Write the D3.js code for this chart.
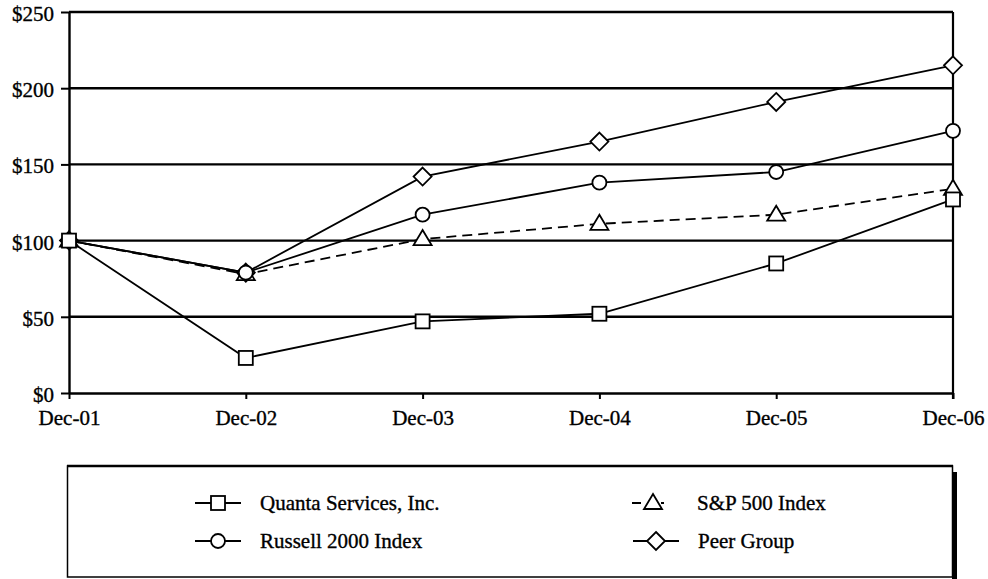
<!DOCTYPE html>
<meta charset="utf-8">
<style>
body { margin: 0; background: white; }
svg text { font-family: "Liberation Serif", "DejaVu Serif", serif !important; fill: black; stroke: black; stroke-width: 0.35px; }
</style>
<body>
<script src="https://d3js.org/d3.v7.min.js"></script>
<script>
var width = 988,
    height = 579;

var years = ["Dec-01", "Dec-02", "Dec-03", "Dec-04", "Dec-05", "Dec-06"];
var yTicks = [0, 50, 100, 150, 200, 250];

var quanta  = [100, 23, 47, 52, 85, 127];
var russell = [100, 79, 117, 138, 145, 172];
var sp500   = [100, 78, 101, 111, 117, 134];
var peer    = [100, 79, 142, 165, 191, 215];

var seriesNames = ["Quanta Services, Inc.", "Russell 2000 Index", "S&P 500 Index", "Peer Group"];

var series = [
  { name: seriesNames[0], values: quanta,  marker: "square",   dash: null },
  { name: seriesNames[1], values: russell, marker: "circle",   dash: null },
  { name: seriesNames[2], values: sp500,   marker: "triangle", dash: "10,6" },
  { name: seriesNames[3], values: peer,    marker: "diamond",  dash: null }
];

var plotLeft = 69, plotRight = 953, plotTop = 12, plotBottom = 393;

var x = d3.scalePoint().domain(years).range([plotLeft, plotRight]);
var y = d3.scaleLinear().domain([0, 250]).range([plotBottom, plotTop]);

var svg = d3.select("body").append("svg")
    .attr("width", width)
    .attr("height", height);

// gridlines
svg.append("g").selectAll("line")
  .data(yTicks.filter(function(d) { return d > 0; }))
  .enter().append("line")
    .attr("x1", plotLeft).attr("x2", plotRight)
    .attr("y1", function(d) { return y(d); })
    .attr("y2", function(d) { return y(d); })
    .attr("stroke", "black")
    .attr("stroke-width", 2.4);

// right border
svg.append("line")
    .attr("x1", plotRight).attr("x2", plotRight)
    .attr("y1", plotTop).attr("y2", plotBottom + 6)
    .attr("stroke", "black").attr("stroke-width", 2.2);

// axes
var yAxis = svg.append("g")
    .attr("transform", "translate(" + plotLeft + ",0)")
    .call(d3.axisLeft(y).tickValues(yTicks).tickSize(8).tickPadding(7).tickSizeOuter(0)
      .tickFormat(function(d) { return "$" + d; }));
yAxis.attr("font-family", null);
yAxis.select(".domain").attr("stroke-width", 2.4);
yAxis.selectAll(".tick line").attr("stroke-width", 2);
yAxis.selectAll("text").style("font-size", "21px").attr("dy", "0.4em");

var xAxis = svg.append("g")
    .attr("transform", "translate(0," + plotBottom + ")")
    .call(d3.axisBottom(x).tickSize(6).tickPadding(11).tickSizeOuter(0));
xAxis.attr("font-family", null);
xAxis.select(".domain").attr("stroke-width", 2.4);
xAxis.selectAll(".tick line").attr("stroke-width", 2);
xAxis.selectAll("text").style("font-size", "21px");

var line = d3.line()
    .x(function(d, i) { return x(years[i]); })
    .y(function(d) { return y(d); });

function drawMarker(g, type, cx, cy) {
  if (type === "square") {
    g.append("rect").attr("x", cx - 7).attr("y", cy - 7).attr("width", 14).attr("height", 14);
  } else if (type === "circle") {
    g.append("circle").attr("cx", cx).attr("cy", cy).attr("r", 7);
  } else if (type === "triangle") {
    g.append("path").attr("d", "M" + cx + "," + (cy - 9) + "L" + (cx + 9) + "," + (cy + 6) + "L" + (cx - 9) + "," + (cy + 6) + "Z");
  } else if (type === "diamond") {
    g.append("path").attr("d", "M" + cx + "," + (cy - 9) + "L" + (cx + 9) + "," + cy + "L" + cx + "," + (cy + 9) + "L" + (cx - 9) + "," + cy + "Z");
  }
}

var lines = svg.append("g");
series.slice().reverse().forEach(function(s) {
  lines.append("path")
    .attr("d", line(s.values))
    .attr("fill", "none")
    .attr("stroke", "black")
    .attr("stroke-width", 1.8)
    .attr("stroke-dasharray", s.dash);
});

var marks = svg.append("g").attr("fill", "white").attr("stroke", "black").attr("stroke-width", 1.8);
series.slice().reverse().forEach(function(s) {
  s.values.forEach(function(v, i) {
    drawMarker(marks, s.marker, x(years[i]), y(v));
  });
});

// legend
var lg = svg.append("g");
lg.append("rect")
    .attr("x", 952).attr("y", 472).attr("width", 5).attr("height", 110)
    .attr("fill", "black");
lg.append("rect")
    .attr("x", 67.5).attr("y", 466).attr("width", 885).attr("height", 111)
    .attr("fill", "white").attr("stroke", "black").attr("stroke-width", 1.5);
lg.append("line")
    .attr("x1", 67).attr("x2", 953).attr("y1", 466).attr("y2", 466)
    .attr("stroke", "black").attr("stroke-width", 2.5);

var legendPos = [
  { lx: 195, ty: 503, tx: 260 },
  { lx: 195, ty: 541, tx: 260 },
  { lx: 632, ty: 503, tx: 697 },
  { lx: 633, ty: 541, tx: 698 }
];

series.forEach(function(s, i) {
  var p = legendPos[i];
  var g = lg.append("g").attr("fill", "white").attr("stroke", "black").attr("stroke-width", 1.8);
  var mw = s.marker === "triangle" ? 44 : 46;
  g.append("line")
    .attr("x1", p.lx).attr("x2", p.lx + mw)
    .attr("y1", p.ty).attr("y2", p.ty)
    .attr("stroke-dasharray", s.dash ? "9,20,3,20" : null);
  drawMarker(g, s.marker, p.lx + (s.marker === "triangle" ? 21 : mw / 2), p.ty);
  lg.append("text")
    .attr("x", p.tx).attr("y", p.ty)
    .attr("dy", "0.35em")
    .style("font-size", "21px")
    .text(s.name);
});
</script>
</body>
</html>
